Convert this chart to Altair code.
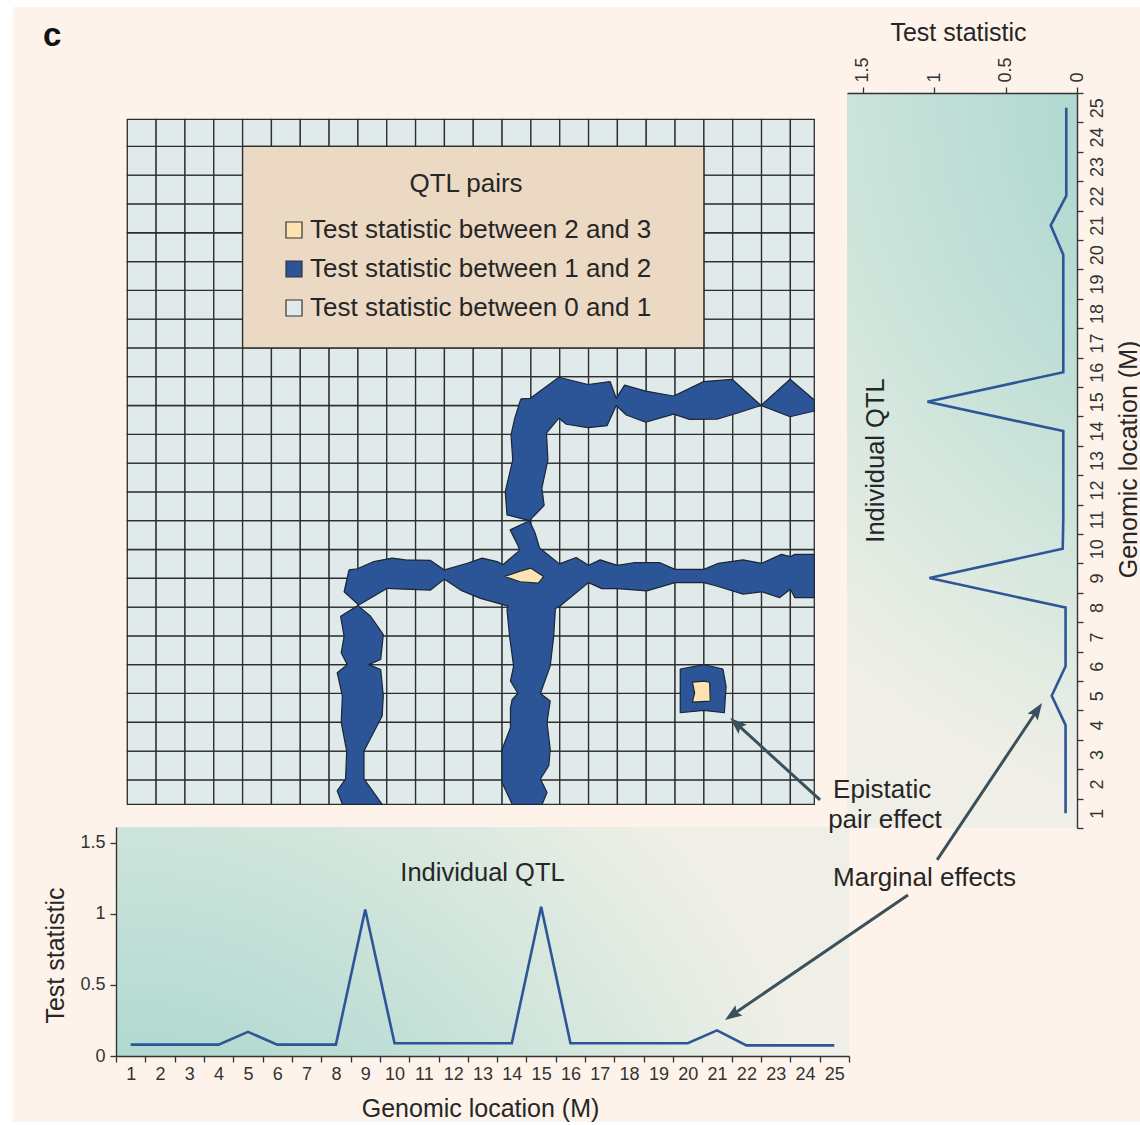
import math
import altair as alt
import pandas as pd

# ---------------------------------------------------------------- data
LOCS = list(range(1, 26))
BOTTOM_STAT = [0.08, 0.08, 0.08, 0.08, 0.17, 0.08, 0.08, 0.08, 1.03, 0.09,
               0.09, 0.09, 0.09, 0.09, 1.05, 0.09, 0.09, 0.09, 0.09, 0.09,
               0.18, 0.075, 0.075, 0.075, 0.075]
RIGHT_STAT = [0.08, 0.08, 0.08, 0.08, 0.177, 0.08, 0.08, 0.08, 1.033, 0.10,
              0.096, 0.096, 0.096, 0.096, 1.047, 0.096, 0.096, 0.096, 0.096, 0.096,
              0.184, 0.075, 0.075, 0.075, 0.075]

CATS = ["Test statistic between 2 and 3",
        "Test statistic between 1 and 2",
        "Test statistic between 0 and 1"]
CAT_COLORS = ["#fde3b1", "#2b5596", "#e0eaea"]
LEGEND_TITLE = "QTL pairs"

# contour regions of the pair test statistic (genomic location x, genomic location y)
BLUE_REGIONS = {
    "row15": [(14.65, 15.23), (14.98, 15.25), (15.97, 15.98), (16.98, 15.73), (17.75, 15.83),
              (17.96, 15.25), (18.25, 15.71), (18.98, 15.50), (19.95, 15.33), (20.99, 15.83),
              (21.98, 15.91), (22.98, 15.00), (22.2, 14.75), (21.48, 14.53), (20.5, 14.52),
              (19.95, 14.70), (18.98, 14.42), (18.31, 14.67), (17.96, 15.0), (17.64, 14.30),
              (16.98, 14.23), (16.23, 14.35), (15.97, 14.56), (15.54, 14.04), (15.59, 13.11),
              (15.38, 12.13), (15.46, 11.53), (14.95, 11.0), (14.17, 11.2), (14.11, 12.01),
              (14.37, 13.11), (14.31, 13.98), (14.44, 14.56)],
    "row15_end": [(22.98, 15.0), (23.99, 15.91), (24.83, 15.19), (24.83, 14.81), (23.99, 14.61)],
    "row9": [(8.69, 9.29), (8.98, 9.33), (9.55, 9.58), (10.19, 9.70), (10.65, 9.64), (11.52, 9.62),
             (12.0, 9.29), (12.79, 9.52), (13.31, 9.70), (13.83, 9.58), (14.03, 9.47), (14.61, 9.97),
             (14.54, 10.16), (14.28, 10.68), (14.95, 11.0), (15.15, 10.56), (15.30, 10.05),
             (15.99, 9.50), (16.57, 9.72), (17.0, 9.45), (17.40, 9.64), (18.0, 9.45), (18.56, 9.54),
             (19.48, 9.54), (20.0, 9.31), (21.0, 9.31), (21.5, 9.52), (22.36, 9.64), (23.0, 9.52),
             (23.69, 9.83), (24.0, 9.75), (24.15, 9.83), (24.83, 9.83), (24.83, 8.33), (24.15, 8.33),
             (24.0, 8.62), (23.63, 8.33), (23.0, 8.53), (22.36, 8.45), (21.44, 8.73), (21.0, 8.85),
             (20.0, 8.85), (19.02, 8.56), (18.0, 8.64), (17.46, 8.64), (17.0, 8.85), (15.99, 8.02),
             (15.85, 7.95), (15.79, 6.98), (15.67, 5.95), (15.33, 5.0), (15.67, 4.74), (15.56, 3.99),
             (15.67, 3.06), (15.62, 2.49), (15.33, 2.03), (15.56, 1.56), (15.39, 1.15), (14.35, 1.15),
             (14.0, 1.9), (14.0, 3.06), (14.29, 3.81), (14.29, 4.5), (14.35, 4.79), (14.55, 5.0),
             (14.29, 5.43), (14.40, 5.95), (14.26, 6.98), (14.17, 7.91), (14.22, 8.03), (13.25, 8.30),
             (12.56, 8.59), (12.0, 8.97), (11.52, 8.59), (10.59, 8.62), (10.02, 8.65), (9.03, 8.07),
             (8.52, 8.53)],
    "col9": [(9.0, 8.05), (9.44, 7.68), (9.88, 7.04), (9.79, 6.18), (9.38, 6.0), (9.79, 5.83),
             (9.88, 4.91), (9.84, 4.22), (9.21, 3.0), (9.21, 2.03), (9.84, 1.15), (8.46, 1.15),
             (8.28, 1.62), (8.57, 2.03), (8.61, 3.0), (8.42, 3.99), (8.46, 4.91), (8.28, 5.72),
             (8.63, 6.0), (8.42, 6.41), (8.52, 6.98), (8.40, 7.68)],
    "pair21_5": [(20.18, 5.85), (21.0, 6.0), (21.66, 5.85), (21.77, 5.25), (21.71, 4.33),
                 (21.0, 4.41), (20.18, 4.33)],
}
PEAK_REGIONS = {
    "pair15_9": [(14.09, 9.06), (14.63, 9.25), (15.0, 9.35), (15.44, 9.06), (15.26, 8.83), (14.63, 8.88)],
    "pair21_5": [(20.6, 5.39), (21.0, 5.43), (21.2, 5.39), (21.22, 4.73), (20.6, 4.70), (20.68, 5.02)],
}
LEGEND_BOX = {"x": [5], "x2": [21], "y": [17], "y2": [24]}

# annotations, in genomic-location units of the pair grid
ARROW_TAIL_X = [25.03, 29.09, 28.08]
ARROW_TAIL_Y = [1.30, -0.78, -2.0]
ARROW_HEAD_X = [21.91, 32.73, 21.73]
ARROW_HEAD_Y = [4.15, 4.67, -6.34]
NOTE_TEXT = ["Epistatic", "pair effect", "Marginal effects"]
NOTE_X = [25.48, 25.31, 25.48]
NOTE_Y = [1.65, 0.60, -1.41]
PANEL_TAG = "c"
PANEL_TAG_XY = (-1.92, 27.82)
QTL_LABEL = "Individual QTL"
QTL_LABEL_LOC = 13.0
QTL_LABEL_STAT = 1.29

# ---------------------------------------------------------------- layout / style
FONT = "Liberation Sans"
INK = "#262626"
AX_INK = "#333333"
CREAM = "#fdf3ea"
LINE = "#2e5596"
ARROW = "#3a515c"
W, H = 1127, 1115
PAD = {"left": 13, "top": 7, "right": 0, "bottom": 3}

GX_DOM, GX_RANGE = [1, 24.83], [114.3, 801.3]
GY_DOM, GY_RANGE = [1.15, 24.94], [797.3, 112.3]
BX_DOM, BX_RANGE = [0.5, 25.5], [103, 836]
BY_DOM, BY_RANGE = [0, 1.61], [1049, 820]
RX_DOM, RX_RANGE = [0, 1.61], [1064, 834]
RY_DOM, RY_RANGE = [0.5, 25.5], [821, 86]

STOPS = [{"offset": 0.0, "color": "#97cdc4"}, {"offset": 0.35, "color": "#b1d9d1"},
         {"offset": 0.65, "color": "#cde4db"}, {"offset": 0.85, "color": "#e1ebe2"},
         {"offset": 1.0, "color": "#f0efe7"}]
GRAD_B = {"gradient": "radial", "x1": 0, "y1": 1, "r1": 0, "x2": 0, "y2": 1, "r2": 1, "stops": STOPS}
GRAD_R = {"gradient": "radial", "x1": 1, "y1": 0, "r1": 0, "x2": 1, "y2": 0, "r2": 1.02, "stops": STOPS}

# ---------------------------------------------------------------- tables
cells_df = pd.DataFrame([{"x": i, "x2": i + 1, "y": j, "y2": j + 1, "cat": CATS[2]}
                         for i in range(1, 25) for j in range(1, 25)])
rows = []
for cat, regions in ((CATS[1], BLUE_REGIONS), (CATS[0], PEAK_REGIONS)):
    for rid, pts in regions.items():
        for k, (px, py) in enumerate(pts + [pts[0]]):
            rows.append({"id": cat[-7:] + rid, "cat": cat, "k": k, "x": px, "y": py})
poly_df = pd.DataFrame(rows)
box_df = pd.DataFrame(LEGEND_BOX)
bottom_df = pd.DataFrame({"loc": LOCS, "stat": BOTTOM_STAT})
right_df = pd.DataFrame({"loc": LOCS, "stat": RIGHT_STAT})

SX = (GX_RANGE[1] - GX_RANGE[0]) / (GX_DOM[1] - GX_DOM[0])
SY = (GY_RANGE[0] - GY_RANGE[1]) / (GY_DOM[1] - GY_DOM[0])
arr = []
for tx, ty, hx, hy in zip(ARROW_TAIL_X, ARROW_TAIL_Y, ARROW_HEAD_X, ARROW_HEAD_Y):
    dx, dy = (hx - tx) * SX, -(hy - ty) * SY
    L = math.hypot(dx, dy)
    back = 10.0 / L
    arr.append({"tx": tx, "ty": ty, "hx": hx, "hy": hy,
                "ex": hx - (hx - tx) * back, "ey": hy - (hy - ty) * back,
                "angle": (math.degrees(math.atan2(dx, -dy)) + 360) % 360})
arrow_df = pd.DataFrame(arr)
notes_df = pd.DataFrame({"t": NOTE_TEXT, "x": NOTE_X, "y": NOTE_Y})
tag_df = pd.DataFrame({"t": [PANEL_TAG], "x": [PANEL_TAG_XY[0]], "y": [PANEL_TAG_XY[1]]})

# ---------------------------------------------------------------- pair grid panel
gx = alt.Scale(domain=GX_DOM, range=GX_RANGE, clamp=True, nice=False, zero=False)
gy = alt.Scale(domain=GY_DOM, range=GY_RANGE, clamp=True, nice=False, zero=False)
fill_scale = alt.Scale(domain=CATS, range=CAT_COLORS)
legend = alt.Legend(title=LEGEND_TITLE, orient="none", legendX=268, legendY=164, padding=0,
                    titleFont=FONT, titleFontSize=26, titleFontWeight="normal", titleColor=INK,
                    titleAnchor="middle", titleAlign="center", titlePadding=20,
                    labelFont=FONT, labelFontSize=26, labelColor=INK, labelOffset=3, labelLimit=600,
                    symbolType="square", symbolSize=256, symbolStrokeColor="#333333",
                    symbolStrokeWidth=1.2, rowPadding=13)

cells = alt.Chart(cells_df).mark_rect(stroke="#2d2d2d", strokeWidth=1.3).encode(
    x=alt.X("x:Q", scale=gx, axis=None), x2="x2:Q",
    y=alt.Y("y:Q", scale=gy, axis=None), y2="y2:Q",
    fill=alt.Fill("cat:N", scale=fill_scale, legend=legend))
box = alt.Chart(box_df).mark_rect(fill="#ecd9c3", stroke="#2d2d2d", strokeWidth=1.3).encode(
    x=alt.X("x:Q", scale=gx, axis=None), x2="x2:Q",
    y=alt.Y("y:Q", scale=gy, axis=None), y2="y2:Q")


def regions(cat):
    return alt.Chart(poly_df).transform_filter(alt.datum.cat == cat).mark_line(
        stroke="#1c2636", strokeWidth=1.2, strokeJoin="round").encode(
        x=alt.X("x:Q", scale=gx, axis=None), y=alt.Y("y:Q", scale=gy, axis=None),
        order=alt.Order("k:Q"), detail="id:N",
        fill=alt.Fill("cat:N", scale=fill_scale, legend=legend))


grid_panel = alt.layer(cells, box, regions(CATS[1]), regions(CATS[0]))

# ---------------------------------------------------------------- axes helpers
common = dict(domainColor=AX_INK, domainWidth=1.4, tickColor=AX_INK, tickWidth=1.3, tickSize=6,
              labelFont=FONT, labelFontSize=18, labelColor=AX_INK, labelFlush=False,
              labelOverlap=False, grid=False, titleFont=FONT, titleFontSize=25,
              titleFontWeight="normal", titleColor=INK, zindex=2)
HALF = [v + 0.5 for v in range(0, 26)]
LOC_LABEL = "datum.value < 25 ? format(datum.value + 0.5, 'd') : ''"

# ---------------------------------------------------------------- bottom panel
bx = alt.Scale(domain=BX_DOM, range=BX_RANGE, nice=False, zero=False)
by = alt.Scale(domain=BY_DOM, range=BY_RANGE, nice=False, zero=False)
ax_bx = alt.Axis(orient="bottom", offset=-66, values=HALF, labelExpr=LOC_LABEL, labelOffset=14.66,
                 labelPadding=3, title="Genomic location (M)", titleX=467, titleY=52,
                 titleBaseline="middle", titleAlign="center", **common)
ax_by = alt.Axis(orient="left", offset=-103, values=[0, 0.5, 1, 1.5], format="~g", labelPadding=5,
                 title="Test statistic", titleX=-61, titleY=948, titleAngle=270,
                 titleBaseline="middle", titleAlign="center", **common)
b_bg = alt.Chart(pd.DataFrame({"x": [BX_DOM[0]], "x2": [BX_DOM[1]], "y": [BY_DOM[0]], "y2": [BY_DOM[1]]})
                 ).mark_rect(fill=GRAD_B).encode(
    x=alt.X("x:Q", scale=bx, axis=ax_bx), x2="x2:Q",
    y=alt.Y("y:Q", scale=by, axis=ax_by), y2="y2:Q")
b_line = alt.Chart(bottom_df).mark_line(color=LINE, strokeWidth=2.6).encode(
    x=alt.X("loc:Q", scale=bx, axis=ax_bx), y=alt.Y("stat:Q", scale=by, axis=ax_by),
    order=alt.Order("loc:Q"))
b_text = alt.Chart(pd.DataFrame({"t": [QTL_LABEL], "x": [QTL_LABEL_LOC], "y": [QTL_LABEL_STAT]})
                   ).mark_text(font=FONT, fontSize=25.5, color=INK, align="center", baseline="middle").encode(
    x=alt.X("x:Q", scale=bx, axis=ax_bx), y=alt.Y("y:Q", scale=by, axis=ax_by), text="t:N")
bottom_panel = alt.layer(b_bg, b_line, b_text)

# ---------------------------------------------------------------- right panel
rx = alt.Scale(domain=RX_DOM, range=RX_RANGE, nice=False, zero=False)
ry = alt.Scale(domain=RY_DOM, range=RY_RANGE, nice=False, zero=False)
ax_rx = alt.Axis(orient="top", offset=-86, values=[0, 0.5, 1, 1.5], format="~g", labelAngle=270,
                 labelAlign="left", labelBaseline="middle", labelPadding=5,
                 title="Test statistic", titleX=945, titleY=-61, titleAngle=0,
                 titleBaseline="middle", titleAlign="center", **common)
ax_ry = alt.Axis(orient="right", offset=-63, values=HALF, labelExpr=LOC_LABEL, labelOffset=-14.7,
                 labelAngle=270, labelAlign="center", labelBaseline="top", labelPadding=5,
                 title="Genomic location (M)", titleX=51, titleY=452, titleAngle=270,
                 titleBaseline="middle", titleAlign="center", **common)
r_bg = alt.Chart(pd.DataFrame({"x": [RX_DOM[0]], "x2": [RX_DOM[1]], "y": [RY_DOM[0]], "y2": [RY_DOM[1]]})
                 ).mark_rect(fill=GRAD_R).encode(
    x=alt.X("x:Q", scale=rx, axis=ax_rx), x2="x2:Q",
    y=alt.Y("y:Q", scale=ry, axis=ax_ry), y2="y2:Q")
r_line = alt.Chart(right_df).mark_line(color=LINE, strokeWidth=2.6).encode(
    x=alt.X("stat:Q", scale=rx, axis=ax_rx), y=alt.Y("loc:Q", scale=ry, axis=ax_ry),
    order=alt.Order("loc:Q"))
r_text = alt.Chart(pd.DataFrame({"t": [QTL_LABEL], "x": [QTL_LABEL_STAT + 0.12], "y": [QTL_LABEL_LOC]})
                   ).mark_text(font=FONT, fontSize=25.5, color=INK, align="center", baseline="middle",
                               angle=270).encode(
    x=alt.X("x:Q", scale=rx, axis=ax_rx), y=alt.Y("y:Q", scale=ry, axis=ax_ry), text="t:N")
right_panel = alt.layer(r_bg, r_line, r_text)

# ---------------------------------------------------------------- annotations
axs = alt.Scale(domain=GX_DOM, range=GX_RANGE, nice=False, zero=False)
ays = alt.Scale(domain=GY_DOM, range=GY_RANGE, nice=False, zero=False)
rules = alt.Chart(arrow_df).mark_rule(color=ARROW, strokeWidth=3).encode(
    x=alt.X("tx:Q", scale=axs, axis=None), y=alt.Y("ty:Q", scale=ays, axis=None),
    x2="ex:Q", y2="ey:Q")
heads = alt.Chart(arrow_df).mark_point(shape="M0,0L-0.8,2.2L0,1.8L0.8,2.2Z", filled=True,
                                       fill=ARROW, opacity=1, size=240, strokeWidth=0).encode(
    x=alt.X("hx:Q", scale=axs, axis=None), y=alt.Y("hy:Q", scale=ays, axis=None),
    angle=alt.Angle("angle:Q", scale=None))
notes = alt.Chart(notes_df).mark_text(font=FONT, fontSize=26, color=INK, align="left",
                                      baseline="middle").encode(
    x=alt.X("x:Q", scale=axs, axis=None), y=alt.Y("y:Q", scale=ays, axis=None), text="t:N")
tag = alt.Chart(tag_df).mark_text(font=FONT, fontSize=33, fontWeight="bold", color="#111111",
                                  align="left", baseline="middle").encode(
    x=alt.X("x:Q", scale=axs, axis=None), y=alt.Y("y:Q", scale=ays, axis=None), text="t:N")
annot_panel = alt.layer(rules, heads, notes, tag)

chart = alt.layer(grid_panel, bottom_panel, right_panel, annot_panel).resolve_scale(
    x="independent", y="independent").resolve_axis(x="independent", y="independent").properties(
    width=W, height=H, autosize=alt.AutoSizeParams(type="none"), padding=PAD, background="white"
).configure_view(fill=CREAM, strokeWidth=0)

chart.save("out.html", embed_options={"renderer": "svg", "actions": False})
